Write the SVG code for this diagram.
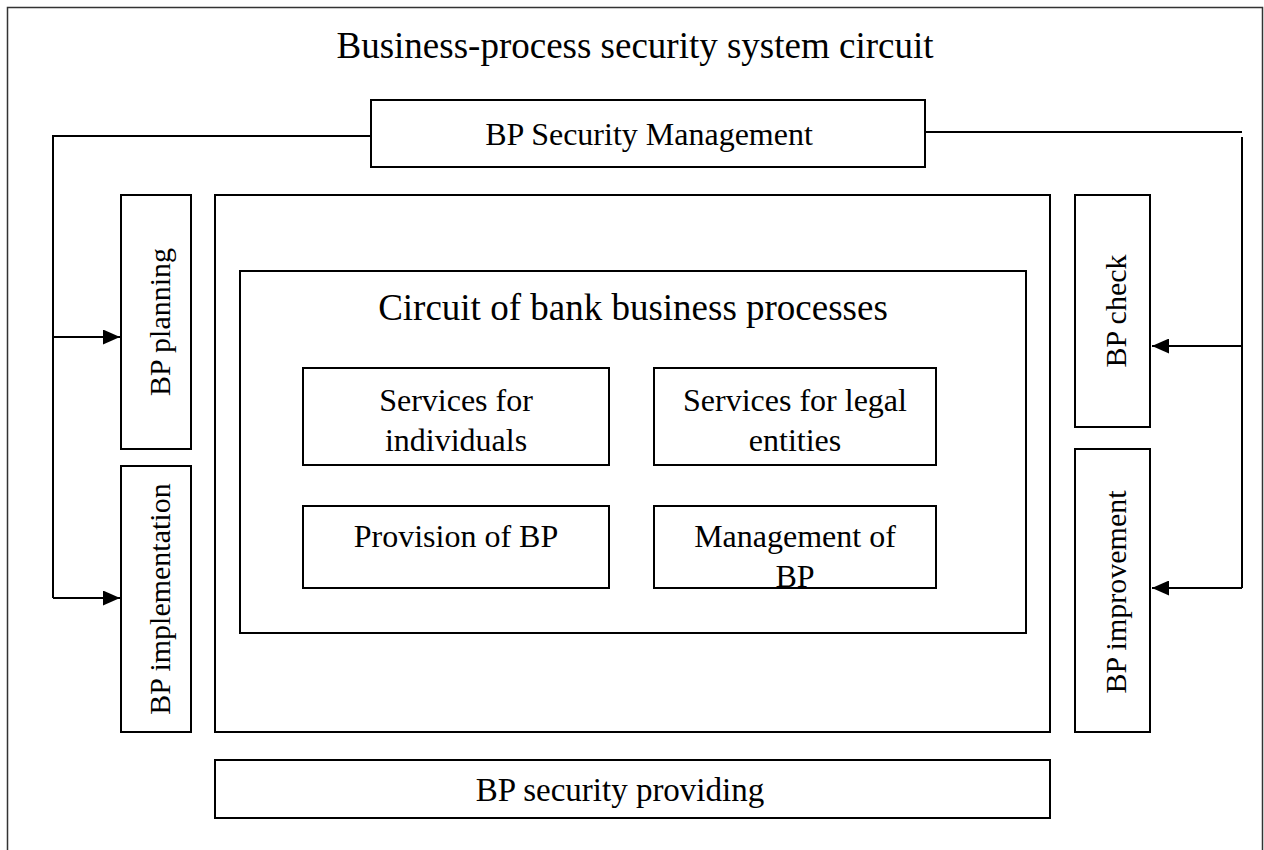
<svg xmlns="http://www.w3.org/2000/svg" width="1264" height="850" viewBox="0 0 1264 850">
<defs>
<style>
.box{fill:#fff;stroke:#000;stroke-width:2}
.t{font-family:"Liberation Serif","Times New Roman",serif;fill:#000;text-anchor:middle}
.ln{fill:none;stroke:#000;stroke-width:2}
</style>
<marker id="ah" viewBox="0 0 17 15" refX="17" refY="7.5" markerWidth="17" markerHeight="15" markerUnits="userSpaceOnUse" orient="auto">
<path d="M0,0 L17,7.5 L0,15 z" fill="#000"/>
</marker>
</defs>
<rect x="0" y="0" width="1264" height="850" fill="#fff"/>
<g id="frame">
<path d="M7.5,860 V7.5 H1262.5 V860" fill="none" stroke="#333" stroke-width="1.5"/>
<text class="t" x="635" y="58" font-size="37">Business-process security system circuit</text>
</g>
<g id="connectors">
<path class="ln" d="M371,136 H53 V598"/>
<path class="ln" d="M53,337 H120" marker-end="url(#ah)"/>
<path class="ln" d="M53,598 H120" marker-end="url(#ah)"/>
<path class="ln" d="M925,132 H1242"/>
<path class="ln" d="M1242,137 V588"/>
<path class="ln" d="M1242,346 H1152" marker-end="url(#ah)"/>
<path class="ln" d="M1242,588 H1152" marker-end="url(#ah)"/>
</g>
<g id="bp-security-management">
<rect class="box" x="371" y="100" width="554" height="67"/>
<text class="t" x="649" y="145" font-size="32">BP Security Management</text>
</g>
<g id="bp-planning">
<rect class="box" x="121" y="195" width="70" height="254"/>
<text class="t" font-size="30" transform="translate(170,322) rotate(-90)">BP planning</text>
</g>
<g id="bp-implementation">
<rect class="box" x="121" y="466" width="70" height="266"/>
<text class="t" font-size="30" transform="translate(170,599) rotate(-90)">BP implementation</text>
</g>
<g id="bp-check">
<rect class="box" x="1075" y="195" width="75" height="232"/>
<text class="t" font-size="30" transform="translate(1126,311) rotate(-90)">BP check</text>
</g>
<g id="bp-improvement">
<rect class="box" x="1075" y="449" width="75" height="283"/>
<text class="t" font-size="30" transform="translate(1126,592) rotate(-90)">BP improvement</text>
</g>
<g id="main-area">
<rect class="box" x="215" y="195" width="835" height="537"/>
</g>
<g id="circuit-bank">
<rect class="box" x="240" y="271" width="786" height="362"/>
<text class="t" x="633" y="320" font-size="37">Circuit of bank business processes</text>
</g>
<g id="services-individuals">
<rect class="box" x="303" y="368" width="306" height="97"/>
<text class="t" x="456" y="411" font-size="32">Services for</text>
<text class="t" x="456" y="451" font-size="32">individuals</text>
</g>
<g id="services-legal">
<rect class="box" x="654" y="368" width="282" height="97"/>
<text class="t" x="795" y="411" font-size="32">Services for legal</text>
<text class="t" x="795" y="451" font-size="32">entities</text>
</g>
<g id="provision-bp">
<rect class="box" x="303" y="506" width="306" height="82"/>
<text class="t" x="456" y="547" font-size="32">Provision of BP</text>
</g>
<g id="management-bp">
<rect class="box" x="654" y="506" width="282" height="82"/>
<text class="t" x="795" y="547" font-size="32">Management of</text>
<text class="t" x="795" y="587" font-size="32">BP</text>
</g>
<g id="bp-security-providing">
<rect class="box" x="215" y="760" width="835" height="58"/>
<text class="t" x="620" y="801" font-size="33">BP security providing</text>
</g>
</svg>
